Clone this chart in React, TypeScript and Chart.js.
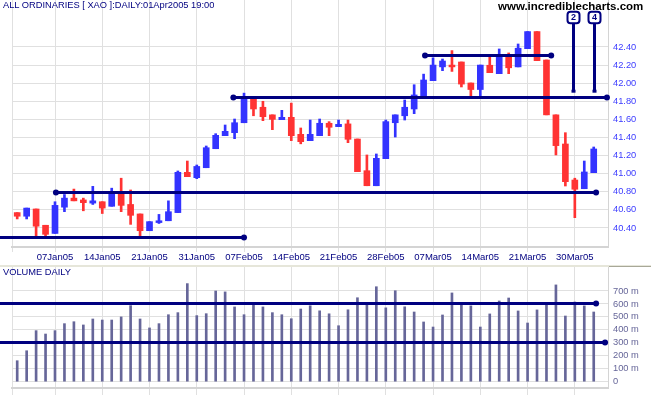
import React, { useEffect, useRef } from "react";
import { Chart, registerables } from "chart.js";

Chart.register(...registerables);

const NAVY = "#000080";
const UP = "#3333ff";
const DOWN = "#ff3333";
const GRID = "#e0e0e0";
const AXIS = "#d4d4d4";
const VOL = "#666699";
const FONT = "'Liberation Sans', Arial, sans-serif";

// ---- data ----
const dateTickIndex = [4, 9, 14, 19, 24, 29, 34, 39, 44, 49, 54, 59];
const dateTickLabels = ["07Jan05", "14Jan05", "21Jan05", "31Jan05", "07Feb05", "14Feb05", "21Feb05", "28Feb05", "07Mar05", "14Mar05", "21Mar05", "30Mar05"];

const opens = [
  40.57, 40.53, 40.61, 40.43, 40.34, 40.63, 40.73, 40.71, 40.675, 40.69,
  40.64, 40.8, 40.66, 40.555, 40.37, 40.46, 40.48, 40.57, 41.015, 40.956,
  41.066, 41.276, 41.42, 41.453, 41.563, 41.844, 41.734, 41.65, 41.597, 41.623,
  41.435, 41.365, 41.42, 41.557, 41.52, 41.55, 41.383, 41.033, 40.867, 41.166,
  41.563, 41.64, 41.715, 41.862, 42.028, 42.18, 42.2, 42.234, 42.002, 41.93,
  42.198, 42.105, 42.31, 42.18, 42.381, 42.57, 42.256, 41.65, 41.328, 40.93,
  40.834, 41.011,
];
const highs = [
  40.57, 40.62, 40.61, 40.43, 40.69, 40.77, 40.83, 40.73, 40.86, 40.69,
  40.84, 40.95, 40.82, 40.555, 40.47, 40.55, 40.7, 41.03, 41.14, 41.096,
  41.306, 41.442, 41.538, 41.604, 41.89, 41.844, 41.8, 41.65, 41.7, 41.78,
  41.505, 41.593, 41.604, 41.575, 41.593, 41.593, 41.383, 41.207, 41.218, 41.593,
  41.65, 41.814, 41.983, 42.1, 42.28, 42.267, 42.36, 42.234, 42.002, 42.2,
  42.31, 42.378, 42.334, 42.433, 42.57, 42.57, 42.256, 41.65, 41.453, 40.95,
  41.14, 41.295,
];
const lows = [
  40.5, 40.5, 40.3, 40.3, 40.34, 40.58, 40.7, 40.59, 40.66, 40.56,
  40.64, 40.58, 40.44, 40.315, 40.37, 40.45, 40.48, 40.57, 40.967, 40.945,
  41.066, 41.276, 41.42, 41.387, 41.563, 41.64, 41.586, 41.486, 41.597, 41.365,
  41.33, 41.365, 41.42, 41.42, 41.52, 41.343, 41.022, 40.867, 40.867, 41.166,
  41.405, 41.593, 41.663, 41.862, 42.028, 42.138, 42.13, 41.958, 41.85, 41.85,
  42.116, 42.105, 42.105, 42.18, 42.381, 42.249, 41.65, 41.207, 40.864, 40.514,
  40.834, 41.011,
];
const closes = [
  40.53, 40.62, 40.42, 40.33, 40.65, 40.73, 40.7, 40.68, 40.7, 40.62,
  40.8, 40.65, 40.54, 40.37, 40.47, 40.48, 40.58, 41.015, 40.967, 41.08,
  41.287, 41.424, 41.468, 41.563, 41.84, 41.715, 41.63, 41.6, 41.623, 41.42,
  41.354, 41.435, 41.557, 41.513, 41.545, 41.38, 41.022, 40.867, 41.17, 41.575,
  41.65, 41.734, 41.87, 42.035, 42.2, 42.245, 42.18, 41.99, 41.93, 42.2,
  42.116, 42.319, 42.17, 42.386, 42.57, 42.249, 41.65, 41.31, 40.912, 40.828,
  41.019, 41.273,
];
// volume in millions
const volumes = [
  162, 239, 394, 368, 394, 448, 463, 438, 484, 476,
  476, 500, 587, 484, 415, 448, 517, 533, 757, 510,
  525, 700, 693, 577, 517, 594, 577, 533, 517, 486,
  561, 586, 547, 524, 432, 555, 648, 609, 733, 570,
  702, 578, 538, 461, 422, 515, 685, 608, 585, 422,
  523, 623, 646, 546, 453, 554, 592, 747, 507, 615,
  585, 538,
];

const priceTicks = [40.4, 40.6, 40.8, 41.0, 41.2, 41.4, 41.6, 41.8, 42.0, 42.2, 42.4];
const volumeTicks = [0, 100, 200, 300, 400, 500, 600, 700];

type Level = { value: number; from: number | null; to: number };
const priceLevels: Level[] = [
  { value: 40.3, from: null, to: 24 },
  { value: 40.8, from: 4.1, to: 61.25 },
  { value: 41.845, from: 22.87, to: 62.4 },
  { value: 42.31, from: 43.15, to: 56.5 },
];
const volumeLevels: Level[] = [
  { value: 608, from: null, to: 61.25 },
  { value: 309, from: null, to: 62.2 },
];
const markerLabels = ["2", "4"];
const markerIndex = [58.85, 61.03];
const markerBoxTop = 42.79;
const markerBoxBottom = 42.661;
const markerLineEnd = 41.906;

// ---- scale ranges ----
const X_MIN = -0.55;
const X_MAX = 62.51;
const P_MIN = 40.19;
const P_MAX = 42.919;
const V_MIN = -48.6;
const V_MAX = 885.2;

function labelFor(v: number): string {
  const k = dateTickIndex.indexOf(v);
  return k >= 0 ? dateTickLabels[k] : "";
}

function levelsPlugin(levels: Level[], withMarkers: boolean) {
  return {
    id: "levels",
    afterDatasetsDraw(chart: any) {
      const ctx = chart.ctx as CanvasRenderingContext2D;
      const xs = chart.scales.x;
      const ys = chart.scales.y;
      ctx.save();
      ctx.strokeStyle = NAVY;
      ctx.fillStyle = NAVY;
      ctx.lineWidth = 3;
      const dot = (x: number, y: number) => {
        ctx.beginPath();
        ctx.arc(x, y, 3, 0, Math.PI * 2);
        ctx.fill();
      };
      levels.forEach((l) => {
        const py = Math.round(ys.getPixelForValue(l.value)) + 0.5;
        const x1 = l.from === null ? 0 : xs.getPixelForValue(l.from);
        const x2 = xs.getPixelForValue(l.to);
        ctx.beginPath();
        ctx.moveTo(x1, py);
        ctx.lineTo(x2, py);
        ctx.stroke();
        if (l.from !== null) dot(x1, py);
        dot(x2, py);
      });
      if (withMarkers) {
        markerLabels.forEach((lab, i) => {
          const cx = Math.round(xs.getPixelForValue(markerIndex[i])) + 0.5;
          const top = ys.getPixelForValue(markerBoxTop);
          const bot = ys.getPixelForValue(markerBoxBottom);
          const end = ys.getPixelForValue(markerLineEnd);
          ctx.lineWidth = 3;
          ctx.beginPath();
          ctx.moveTo(cx, bot);
          ctx.lineTo(cx, end);
          ctx.stroke();
          ctx.fillRect(cx - 2, end - 2, 4, 3);
          // box
          const w = 12;
          const h = bot - top;
          const x0 = cx - w / 2;
          const r = 3;
          ctx.lineWidth = 2;
          ctx.beginPath();
          ctx.moveTo(x0 + r, top);
          ctx.lineTo(x0 + w - r, top);
          ctx.arcTo(x0 + w, top, x0 + w, top + r, r);
          ctx.lineTo(x0 + w, top + h - r);
          ctx.arcTo(x0 + w, top + h, x0 + w - r, top + h, r);
          ctx.lineTo(x0 + r, top + h);
          ctx.arcTo(x0, top + h, x0, top + h - r, r);
          ctx.lineTo(x0, top + r);
          ctx.arcTo(x0, top, x0 + r, top, r);
          ctx.closePath();
          ctx.fillStyle = "#ffffff";
          ctx.fill();
          ctx.stroke();
          ctx.fillStyle = NAVY;
          ctx.font = `bold 9px ${FONT}`;
          ctx.textAlign = "center";
          ctx.textBaseline = "middle";
          ctx.fillText(lab, cx, (top + bot) / 2 + 0.5);
        });
      }
      ctx.restore();
    },
  };
}

function xScale(showLabels: boolean, height: number, tickLength: number) {
  return {
    type: "linear" as const,
    min: X_MIN,
    max: X_MAX,
    offset: false,
    afterBuildTicks: (s: any) => {
      s.ticks = [{ value: X_MIN }, ...dateTickIndex.map((v) => ({ value: v }))];
    },
    ticks: {
      display: showLabels,
      autoSkip: false,
      maxRotation: 0,
      minRotation: 0,
      padding: 0,
      color: NAVY,
      font: { family: FONT, size: 9.5 },
      callback: (v: any) => labelFor(Number(v)),
    },
    grid: { color: GRID, lineWidth: 1, offset: false, drawTicks: true, tickLength, tickColor: GRID },
    border: { color: AXIS, width: 2 },
    afterFit: (s: any) => {
      s.height = height;
      s.paddingLeft = 0;
      s.paddingRight = 0;
    },
  };
}

function yScale(min: number, max: number, ticks: number[], fmt: (v: number) => string, color: string) {
  return {
    type: "linear" as const,
    position: "right" as const,
    min,
    max,
    afterBuildTicks: (s: any) => {
      s.ticks = ticks.map((v) => ({ value: v }));
    },
    ticks: {
      padding: 5,
      color,
      font: { family: FONT, size: 9.3 },
      callback: (v: any) => fmt(Number(v)),
    },
    grid: { color: GRID, lineWidth: 1, drawTicks: false },
    border: { color: AXIS, width: 1 },
    afterFit: (s: any) => {
      s.width = 43;
      s.paddingTop = 0;
      s.paddingBottom = 0;
    },
  };
}

function PriceChart() {
  const ref = useRef<HTMLCanvasElement | null>(null);
  useEffect(() => {
    if (!ref.current) return;
    const idx = opens.map((_, i) => i);
    const colors = idx.map((i) => (closes[i] >= opens[i] ? UP : DOWN));
    const chart = new Chart(ref.current, {
      type: "bar",
      data: {
        datasets: [
          {
            label: "body",
            data: idx.map((i) => ({ x: i, y: [opens[i], closes[i]] })) as any,
            backgroundColor: colors,
            barThickness: 6,
            grouped: false,
            borderWidth: 0,
          },
          {
            label: "wick",
            data: idx.map((i) => ({ x: i, y: [lows[i], highs[i]] })) as any,
            backgroundColor: colors,
            barThickness: 2,
            grouped: false,
            borderWidth: 0,
          },
        ],
      },
      options: {
        animation: false,
        responsive: false,
        devicePixelRatio: 1,
        layout: { padding: { left: 12, top: 0, right: 0, bottom: 0 } },
        plugins: { legend: { display: false }, tooltip: { enabled: false }, title: { display: false } },
        scales: {
          x: xScale(true, 15, 5) as any,
          y: yScale(P_MIN, P_MAX, priceTicks, (v) => v.toFixed(2), "#3c3cff") as any,
        },
      },
      plugins: [levelsPlugin(priceLevels, true) as any],
    });
    return () => chart.destroy();
  }, []);
  return <canvas ref={ref} width={651} height={262} style={{ position: "absolute", left: 0, top: 0 }} />;
}

function VolumeChart() {
  const ref = useRef<HTMLCanvasElement | null>(null);
  useEffect(() => {
    if (!ref.current) return;
    const chart = new Chart(ref.current, {
      type: "bar",
      data: {
        datasets: [
          {
            label: "volume",
            data: volumes.map((v, i) => ({ x: i, y: v })) as any,
            backgroundColor: VOL,
            barThickness: 2,
            grouped: false,
            borderWidth: 0,
          },
        ],
      },
      options: {
        animation: false,
        responsive: false,
        devicePixelRatio: 1,
        layout: { padding: { left: 12, top: 5, right: 0, bottom: 0 } },
        plugins: { legend: { display: false }, tooltip: { enabled: false } },
        scales: {
          x: xScale(false, 7, 7) as any,
          y: yScale(V_MIN, V_MAX, volumeTicks, (v) => (v === 0 ? "0" : `${v} m`), VOL) as any,
        },
      },
      plugins: [levelsPlugin(volumeLevels, false) as any],
    });
    return () => chart.destroy();
  }, []);
  return <canvas ref={ref} width={651} height={133} style={{ position: "absolute", left: 0, top: 262 }} />;
}

export default function App() {
  return (
    <div style={{ position: "absolute", left: 0, top: 0, width: 651, height: 395, background: "#ffffff", overflow: "hidden" }}>
      <PriceChart />
      <VolumeChart />
      <div style={{ position: "absolute", left: 0, top: 265, width: 651, height: 2, background: "#e6e6da" }} />
      <div style={{ position: "absolute", left: 609, top: 266, width: 42, height: 1, background: "#a8a898" }} />
      <div
        style={{
          position: "absolute",
          left: 3,
          top: 1,
          font: `9.3px ${FONT}`,
          lineHeight: 1,
          color: NAVY,
          whiteSpace: "nowrap",
        }}
      >
        ALL ORDINARIES [ XAO ]:DAILY:01Apr2005 19:00
      </div>
      <div
        style={{
          position: "absolute",
          left: 498,
          top: 1,
          font: `bold 11.5px ${FONT}`,
          lineHeight: 1,
          color: "#000000",
          whiteSpace: "nowrap",
        }}
      >
        www.incrediblecharts.com
      </div>
      <div
        style={{
          position: "absolute",
          left: 3,
          top: 268,
          font: `9.3px ${FONT}`,
          lineHeight: 1,
          color: NAVY,
          whiteSpace: "nowrap",
        }}
      >
        VOLUME DAILY
      </div>
    </div>
  );
}
